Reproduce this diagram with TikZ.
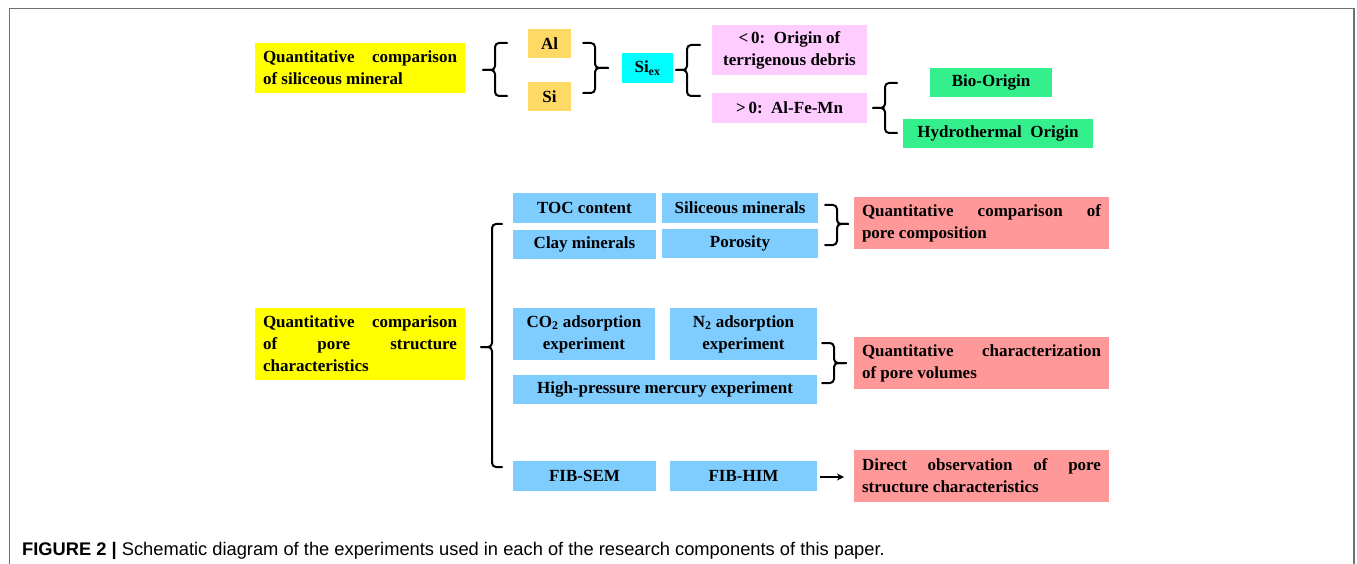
\documentclass[tikz,border=0pt]{standalone}
\usepackage{fontspec}
\setmainfont{Liberation Serif}
\newfontfamily\capfont{Liberation Sans}
\usetikzlibrary{arrows.meta}
\definecolor{cyel}{HTML}{FFFF00}
\definecolor{corg}{HTML}{FFD966}
\definecolor{ccyan}{HTML}{00FFFF}
\definecolor{cpink}{HTML}{FFCCFF}
\definecolor{cgreen}{HTML}{33F08C}
\definecolor{cblue}{HTML}{7FCCFF}
\definecolor{csalmon}{HTML}{FF9999}
\definecolor{cframe}{HTML}{707070}
\newcommand\LBr[6]{% tip, bar, end, ytop, ymid, ybot
  \draw[brc] (#3,#4) -- (#2,#4) -- (#2,#5) -- (#1,#5);
  \draw[brc] (#1,#5) -- (#2,#5) -- (#2,#6) -- (#3,#6);}
\newcommand\RBr[6]{% end, bar, tip, ytop, ymid, ybot
  \draw[brc] (#1,#4) -- (#2,#4) -- (#2,#5) -- (#3,#5);
  \draw[brc] (#3,#5) -- (#2,#5) -- (#2,#6) -- (#1,#6);}
\newcommand\nohy{\hyphenpenalty=10000\relax}
\tikzset{
  box/.style={anchor=north west, inner sep=0pt, outer sep=0pt, align=center,
    font=\bfseries\fontsize{17}{22}\selectfont},
  jbox/.style={box, align=justify, inner xsep=8pt},
  brc/.style={line width=2pt, rounded corners=4pt, line cap=round},
}
\begin{document}
\begin{tikzpicture}[x=1pt,y=-1pt]
\useasboundingbox (0,0) rectangle (1357,564);
% frame
\draw[cframe, line width=1.5pt] (9.5,564) -- (9.5,8.5) -- (1354,8.5) -- (1354,564);
% top section
\node[jbox, fill=cyel, minimum width=210, minimum height=50, text width=194] (y1) at (255,43)
  {\nohy Quantitative comparison\linebreak of siliceous mineral};
\node[box, fill=corg, minimum width=43, minimum height=29] (al) at (528,29) {Al};
\node[box, fill=corg, minimum width=43, minimum height=29] (si) at (528,82) {Si};
\node[box, fill=ccyan, minimum width=51, minimum height=30] (siex) at (622,53) {Si\textsubscript{ex}};
\node[box, fill=cpink, minimum width=155, minimum height=50] (pk1) at (712,25)
  {<\,0:\ \ Origin of\\terrigenous debris};
\node[box, fill=cpink, minimum width=155, minimum height=30] (pk2) at (712,93) {>\,0:\ \ Al-Fe-Mn};
\node[box, fill=cgreen, minimum width=122, minimum height=29] (bio) at (930,68) {Bio-Origin};
\node[box, fill=cgreen, minimum width=190, minimum height=29] (hyd) at (903,119) {Hydrothermal\ \ Origin};
\LBr{483}{495}{507}{43}{70}{96}
\RBr{583}{595}{608}{43}{68}{93}
\LBr{676}{687}{700}{45}{70}{96}
\LBr{873}{885}{897}{83}{108}{133}
% middle section
\node[jbox, fill=cyel, minimum width=210, minimum height=72, text width=194] (y2) at (255,308)
  {\nohy Quantitative comparison\linebreak of pore structure\linebreak characteristics};
\node[box, fill=cblue, minimum width=143, minimum height=30] (toc) at (513,193) {TOC content};
\node[box, fill=cblue, minimum width=156, minimum height=30] (sil) at (662,193) {Siliceous minerals};
\node[box, fill=cblue, minimum width=143, minimum height=29] (clay) at (513,230) {Clay minerals};
\node[box, fill=cblue, minimum width=156, minimum height=29] (por) at (662,229) {Porosity};
\RBr{825}{837}{848}{205}{224}{245}
\node[jbox, fill=csalmon, minimum width=255, minimum height=52, text width=239] (q1) at (854,197)
  {\nohy Quantitative comparison of\linebreak pore composition};
\node[box, fill=cblue, minimum width=142, minimum height=52] (co2) at (513,308)
  {CO\textsubscript{2} adsorption\\experiment};
\node[box, fill=cblue, minimum width=147, minimum height=52] (n2) at (670,308)
  {N\textsubscript{2} adsorption\\experiment};
\node[box, fill=cblue, minimum width=304, minimum height=29] (hp) at (513,375) {High-pressure mercury experiment};
\RBr{822}{834}{846}{343}{363}{383}
\node[jbox, fill=csalmon, minimum width=255, minimum height=52, text width=239] (q2) at (854,337)
  {\nohy Quantitative characterization\linebreak of pore volumes};
% bottom
\node[box, fill=cblue, minimum width=143, minimum height=30] (fsem) at (513,461) {FIB-SEM};
\node[box, fill=cblue, minimum width=147, minimum height=30] (fhim) at (670,461) {FIB-HIM};
\node[jbox, fill=csalmon, minimum width=255, minimum height=52, text width=239] (q3) at (854,450)
  {\nohy Direct observation of pore\linebreak structure characteristics};
\coordinate (arS) at (820,477);
\coordinate (arE) at (844,477);
\draw[line width=1.8pt, -{Stealth[length=7pt,width=7pt]}] (arS) -- (arE);
% big brace
\LBr{481}{492}{502}{224}{347}{467}
% caption
\node[anchor=base west, inner sep=0pt, font=\capfont\fontsize{18.3}{22}\selectfont] (cap) at (22,555)
  {\textbf{FIGURE 2 |} Schematic diagram of the experiments used in each of the research components of this paper.};
\end{tikzpicture}
\end{document}
